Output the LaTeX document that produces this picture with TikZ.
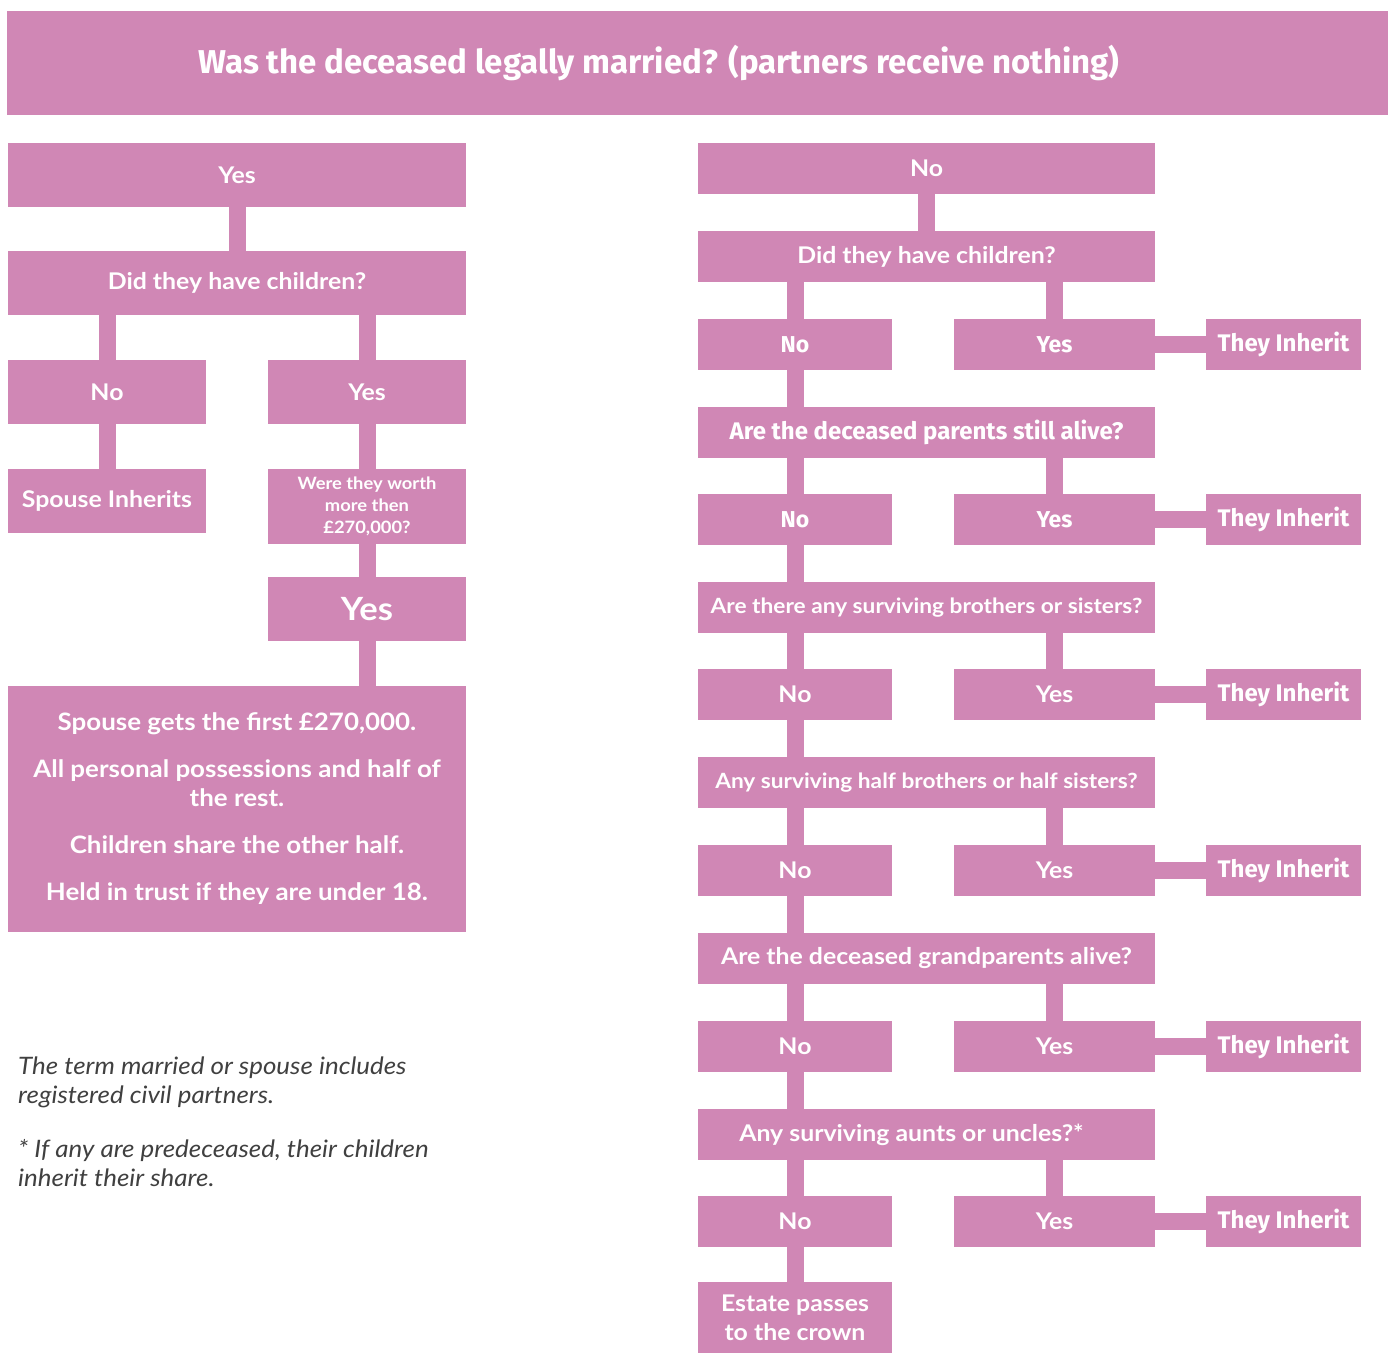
\documentclass[tikz,border=0pt]{standalone}
\usepackage{fontspec}
\setmainfont{Lato}[FakeStretch=1.08]
\newfontfamily\cndfont{Fira Sans}
\usetikzlibrary{positioning}
\definecolor{inhPink}{RGB}{208,135,181}
\definecolor{inhNote}{RGB}{64,64,64}

\begin{document}
\begin{tikzpicture}[
  x=1pt, y=-1pt,
  box/.style={fill=inhPink, text=white, inner sep=0pt, align=center, font=\fontsize{23}{29}\selectfont\bfseries},
  wide/.style={box, minimum width=458pt, minimum height=64pt},
  half/.style={box, minimum width=198pt, minimum height=64pt},
  quest/.style={box, minimum width=457pt, minimum height=51pt, font=\fontsize{21}{26}\selectfont\bfseries},
  bigq/.style={quest, font=\fontsize{23}{29}\selectfont\bfseries},
  nobox/.style={box, minimum width=194pt, minimum height=51pt},
  yesbox/.style={box, minimum width=201pt, minimum height=51pt},
  inh/.style={box, minimum width=155pt, minimum height=51pt, font=\cndfont\fontsize{24}{28}\selectfont\bfseries},
  cnd/.style={font=\cndfont\fontsize{23}{28}\selectfont\bfseries},
  link/.style={draw=inhPink, line width=17pt},
]
\useasboundingbox (0,0) rectangle (1394,1354);
% heading
\node[box, minimum width=1381pt, minimum height=104pt, font=\cndfont\fontsize{33}{38}\selectfont\bfseries] (title) at (697.5,63)
  {\hbox{Was the deceased legally married? (partners receive nothing)\hspace{77pt}}};

% married side
\node[wide] (lyes) at (237,175) {Yes};
\node[wide] (lkids) at (237,283) {Did they have children?};
\node[half] (lno) at (107,392) {No};
\node[half] (lyes2) at (367,392) {Yes};
\node[half] (lspouse) at (107,501) {Spouse Inherits};
\node[half, minimum height=75pt, font=\fontsize{17}{22}\selectfont\bfseries] (lworth) at (367,506.5)
  {Were they worth\\more then\\£270,000?};
\node[half, font=\fontsize{32}{36}\selectfont\bfseries] (lyes3) at (367,609) {Yes};
\node[wide, minimum height=246pt, font=\fontsize{24}{29}\selectfont\bfseries] (lshare) at (237,809)
  {Spouse gets the first £270,000.\\[18pt]
   All personal possessions and half of\\the rest.\\[18pt]
   Children share the other half.\\[18pt]
   Held in trust if they are under 18.};
\draw[link] (lyes.south) -- (lkids.north);
\draw[link] (lno.north) -- (lno.north |- lkids.south);
\draw[link] (lyes2.north) -- (lyes2.north |- lkids.south);
\draw[link] (lno.south) -- (lspouse.north);
\draw[link] (lyes2.south) -- (lworth.north);
\draw[link] (lworth.south) -- (lyes3.north);
\draw[link] (lyes3.south) -- (lyes3.south |- lshare.north);

% footnotes
\node[anchor=west, align=left, inner sep=0pt, text=inhNote, font=\fontsize{24}{29}\selectfont\itshape] (note) at (18,1122)
  {The term married or spouse includes\\registered civil partners.\\[25pt]
   * If any are predeceased, their children\\inherit their share.};

% not married side
\node[bigq] (rno) at (926.5,168.5) {No};
\node[bigq] (rkids) at (926.5,256.5) {Did they have children?};
\node[nobox, cnd] (rno1) at (795,344.5) {No};
\node[yesbox, cnd] (ryes1) at (1054.5,344.5) {Yes};
\node[inh] (rinh1) at (1283.5,344.5) {They Inherit};
\node[quest, font=\cndfont\fontsize{24}{28}\selectfont\bfseries] (rparents) at (926.5,432.5) {Are the deceased parents still alive?};
\node[nobox, cnd] (rno2) at (795,519.5) {No};
\node[yesbox, cnd] (ryes2) at (1054.5,519.5) {Yes};
\node[inh] (rinh2) at (1283.5,519.5) {They Inherit};
\node[quest] (rsiblings) at (926.5,607.5) {Are there any surviving brothers or sisters?};
\node[nobox] (rno3) at (795,694.5) {No};
\node[yesbox] (ryes3) at (1054.5,694.5) {Yes};
\node[inh] (rinh3) at (1283.5,694.5) {They Inherit};
\node[quest] (rhalf) at (926.5,782.5) {Any surviving half brothers or half sisters?};
\node[nobox] (rno4) at (795,870.5) {No};
\node[yesbox] (ryes4) at (1054.5,870.5) {Yes};
\node[inh] (rinh4) at (1283.5,870.5) {They Inherit};
\node[bigq] (rgrand) at (926.5,958.5) {Are the deceased grandparents alive?};
\node[nobox] (rno5) at (795,1046.5) {No};
\node[yesbox] (ryes5) at (1054.5,1046.5) {Yes};
\node[inh] (rinh5) at (1283.5,1046.5) {They Inherit};
\node[bigq] (raunts) at (926.5,1134.5) {\hbox{Any surviving aunts or uncles?*\hspace{30pt}}};
\node[nobox] (rno6) at (795,1221.5) {No};
\node[yesbox] (ryes6) at (1054.5,1221.5) {Yes};
\node[inh] (rinh6) at (1283.5,1221.5) {They Inherit};
\node[nobox, minimum height=71pt, font=\fontsize{23}{29}\selectfont\bfseries] (rcrown) at (795,1317.5) {Estate passes\\to the crown};

\draw[link] (rno.south) -- (rkids.north);
\draw[link] (rno1.north) -- (rno1.north |- rkids.south);
\draw[link] (ryes1.north) -- (ryes1.north |- rkids.south);
\draw[link] (ryes1.east) -- (rinh1.west);
\draw[link] (rno1.south) -- (rno1.south |- rparents.north);
\draw[link] (rno2.north) -- (rno2.north |- rparents.south);
\draw[link] (ryes2.north) -- (ryes2.north |- rparents.south);
\draw[link] (ryes2.east) -- (rinh2.west);
\draw[link] (rno2.south) -- (rno2.south |- rsiblings.north);
\draw[link] (rno3.north) -- (rno3.north |- rsiblings.south);
\draw[link] (ryes3.north) -- (ryes3.north |- rsiblings.south);
\draw[link] (ryes3.east) -- (rinh3.west);
\draw[link] (rno3.south) -- (rno3.south |- rhalf.north);
\draw[link] (rno4.north) -- (rno4.north |- rhalf.south);
\draw[link] (ryes4.north) -- (ryes4.north |- rhalf.south);
\draw[link] (ryes4.east) -- (rinh4.west);
\draw[link] (rno4.south) -- (rno4.south |- rgrand.north);
\draw[link] (rno5.north) -- (rno5.north |- rgrand.south);
\draw[link] (ryes5.north) -- (ryes5.north |- rgrand.south);
\draw[link] (ryes5.east) -- (rinh5.west);
\draw[link] (rno5.south) -- (rno5.south |- raunts.north);
\draw[link] (rno6.north) -- (rno6.north |- raunts.south);
\draw[link] (ryes6.north) -- (ryes6.north |- raunts.south);
\draw[link] (ryes6.east) -- (rinh6.west);
\draw[link] (rno6.south) -- (rcrown.north);
\end{tikzpicture}
\end{document}
